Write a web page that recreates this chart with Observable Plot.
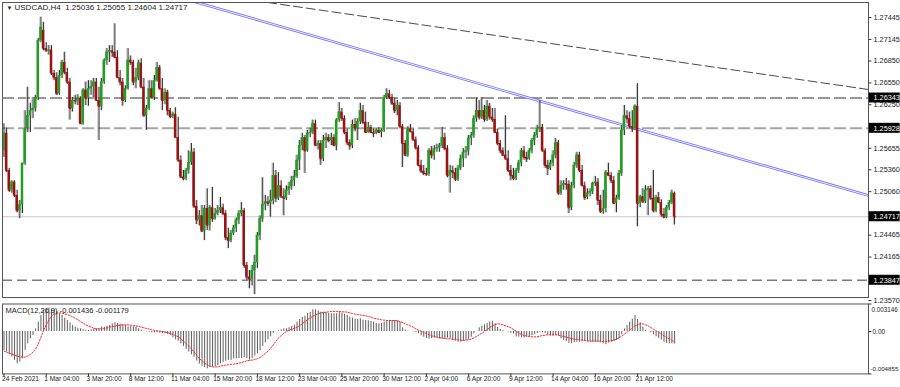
<!DOCTYPE html>
<html><head><meta charset="utf-8">
<script src="https://cdn.jsdelivr.net/npm/d3@7"></script>
<script src="https://cdn.jsdelivr.net/npm/@observablehq/plot@0.6"></script>
<style>
body{margin:0;background:#fff;}
#wrap{position:relative;width:900px;height:387px;overflow:hidden;background:#fff;}
#main,#macd{position:absolute;left:0;}
#main{top:0px}
#macd{top:300px}
</style></head><body><div id="wrap"><div id="main"></div><div id="macd"></div></div>
<script>
const open=[1.2562,1.2586,1.2535,1.2508,1.2519,1.2501,1.2480,1.2488,1.2545,1.2592,
1.2610,1.2617,1.2620,1.2635,1.2713,1.2727,1.2702,1.2699,1.2700,1.2668,
1.2662,1.2640,1.2665,1.2683,1.2669,1.2656,1.2620,1.2631,1.2630,1.2634,
1.2599,1.2645,1.2634,1.2647,1.2650,1.2656,1.2631,1.2623,1.2656,1.2686,
1.2697,1.2699,1.2697,1.2690,1.2662,1.2656,1.2631,1.2647,1.2686,1.2683,
1.2656,1.2662,1.2682,1.2649,1.2610,1.2620,1.2647,1.2635,1.2658,1.2676,
1.2647,1.2631,1.2642,1.2617,1.2609,1.2612,1.2580,1.2549,1.2526,1.2524,
1.2535,1.2546,1.2560,1.2486,1.2467,1.2473,1.2452,1.2483,1.2460,1.2484,
1.2469,1.2476,1.2480,1.2484,1.2476,1.2443,1.2439,1.2449,1.2456,1.2467,
1.2476,1.2480,1.2405,1.2389,1.2386,1.2398,1.2409,1.2446,1.2469,1.2488,
1.2492,1.2490,1.2494,1.2528,1.2497,1.2514,1.2499,1.2497,1.2508,1.2513,
1.2521,1.2527,1.2549,1.2569,1.2580,1.2562,1.2586,1.2587,1.2599,1.2569,
1.2572,1.2551,1.2576,1.2580,1.2576,1.2580,1.2569,1.2604,1.2615,1.2606,
1.2587,1.2573,1.2569,1.2598,1.2592,1.2602,1.2617,1.2601,1.2587,1.2594,
1.2587,1.2586,1.2590,1.2587,1.2590,1.2635,1.2640,1.2635,1.2627,1.2617,
1.2624,1.2595,1.2572,1.2556,1.2592,1.2588,1.2577,1.2566,1.2542,1.2534,
1.2531,1.2530,1.2562,1.2556,1.2565,1.2566,1.2569,1.2580,1.2565,1.2528,
1.2535,1.2532,1.2523,1.2538,1.2551,1.2560,1.2562,1.2579,1.2583,1.2606,
1.2617,1.2608,1.2617,1.2605,1.2623,1.2608,1.2605,1.2587,1.2572,1.2562,
1.2556,1.2551,1.2535,1.2528,1.2524,1.2535,1.2545,1.2562,1.2553,1.2551,
1.2562,1.2576,1.2583,1.2592,1.2594,1.2562,1.2542,1.2538,1.2545,1.2556,
1.2573,1.2504,1.2514,1.2517,1.2516,1.2484,1.2514,1.2542,1.2556,1.2535,
1.2514,1.2498,1.2504,1.2506,1.2517,1.2519,1.2494,1.2479,1.2483,1.2532,
1.2528,1.2521,1.2490,1.2497,1.2531,1.2590,1.2610,1.2606,1.2595,1.2592,
1.2623,1.2490,1.2499,1.2492,1.2508,1.2510,1.2497,1.2480,1.2498,1.2491,
1.2475,1.2471,1.2484,1.2491,1.25036];
const high=[1.2599,1.2593,1.2538,1.2521,1.2521,1.2508,1.2494,1.2494,1.2617,1.2649,
1.2627,1.2635,1.2638,1.2716,1.2745,1.2738,1.2710,1.2706,1.2706,1.2672,
1.2669,1.2672,1.2686,1.2697,1.2675,1.2661,1.2635,1.2638,1.2639,1.2636,
1.2647,1.2656,1.2658,1.2658,1.2661,1.2661,1.2649,1.2661,1.2688,1.2702,
1.2706,1.2706,1.2736,1.2699,1.2672,1.2661,1.2651,1.2702,1.2692,1.2686,
1.2675,1.2686,1.2688,1.2661,1.2624,1.2658,1.2658,1.2665,1.2683,1.2679,
1.2661,1.2647,1.2645,1.2620,1.2615,1.2621,1.2608,1.2555,1.2535,1.2538,
1.2562,1.2572,1.2565,1.2494,1.2480,1.2487,1.2487,1.2510,1.2487,1.2512,
1.2483,1.2487,1.2498,1.2489,1.2480,1.2456,1.2453,1.2460,1.2470,1.2480,
1.2491,1.2483,1.2409,1.2398,1.2405,1.2419,1.2450,1.2473,1.2525,1.2501,
1.2499,1.2508,1.2545,1.2535,1.2532,1.2521,1.2510,1.2514,1.2519,1.2527,
1.2535,1.2556,1.2576,1.2586,1.2583,1.2590,1.2593,1.2604,1.2604,1.2576,
1.2576,1.2583,1.2586,1.2584,1.2586,1.2584,1.2606,1.2628,1.2620,1.2610,
1.2592,1.2577,1.2604,1.2606,1.2606,1.2627,1.2624,1.2615,1.2601,1.2597,
1.2592,1.2592,1.2594,1.2592,1.2638,1.2647,1.2645,1.2639,1.2634,1.2631,
1.2628,1.2598,1.2576,1.2595,1.2598,1.2592,1.2581,1.2569,1.2549,1.2542,
1.2538,1.2565,1.2568,1.2569,1.2571,1.2572,1.2594,1.2586,1.2569,1.2542,
1.2541,1.2538,1.2542,1.2556,1.2565,1.2568,1.2583,1.2587,1.2610,1.2634,
1.2631,1.2635,1.2624,1.2631,1.2627,1.2620,1.2620,1.2592,1.2576,1.2566,
1.2610,1.2562,1.2542,1.2538,1.2538,1.2549,1.2565,1.2568,1.2560,1.2565,
1.2579,1.2587,1.2597,1.2631,1.2598,1.2565,1.2549,1.2549,1.2562,1.2579,
1.2576,1.2521,1.2521,1.2524,1.2521,1.2519,1.2546,1.2560,1.2560,1.2542,
1.2519,1.2510,1.2510,1.2519,1.2527,1.2524,1.2501,1.2508,1.2535,1.2545,
1.2532,1.2527,1.2501,1.2535,1.2597,1.2624,1.2617,1.2615,1.2617,1.2625,
1.2654,1.2501,1.2510,1.2514,1.2513,1.2514,1.2535,1.2501,1.2505,1.2495,
1.2483,1.2487,1.2494,1.2508,1.25055];
const low=[1.2553,1.2532,1.2505,1.2504,1.2498,1.2477,1.2469,1.2476,1.2542,1.2587,
1.2587,1.2606,1.2615,1.2631,1.2710,1.2699,1.2697,1.2693,1.2665,1.2658,
1.2638,1.2638,1.2661,1.2666,1.2653,1.2604,1.2615,1.2625,1.2624,1.2598,
1.2597,1.2624,1.2623,1.2638,1.2635,1.2630,1.2576,1.2617,1.2653,1.2679,
1.2683,1.2690,1.2688,1.2661,1.2651,1.2623,1.2628,1.2645,1.2679,1.2651,
1.2647,1.2658,1.2647,1.2608,1.2590,1.2617,1.2634,1.2631,1.2656,1.2645,
1.2617,1.2625,1.2610,1.2606,1.2606,1.2579,1.2546,1.2524,1.2521,1.2521,
1.2530,1.2542,1.2483,1.2461,1.2459,1.2450,1.2439,1.2453,1.2452,1.2464,
1.2467,1.2473,1.2476,1.2473,1.2439,1.2428,1.2436,1.2446,1.2450,1.2461,
1.2472,1.2401,1.2384,1.2373,1.2377,1.2365,1.2401,1.2439,1.2464,1.2480,
1.2486,1.2471,1.2488,1.2491,1.2494,1.2497,1.2473,1.2494,1.2501,1.2508,
1.2513,1.2524,1.2535,1.2562,1.2531,1.2560,1.2580,1.2584,1.2568,1.2563,
1.2542,1.2547,1.2565,1.2573,1.2569,1.2568,1.2562,1.2601,1.2602,1.2584,
1.2569,1.2563,1.2565,1.2588,1.2576,1.2598,1.2598,1.2586,1.2586,1.2586,
1.2580,1.2584,1.2586,1.2580,1.2587,1.2632,1.2632,1.2624,1.2613,1.2610,
1.2592,1.2539,1.2554,1.2553,1.2587,1.2575,1.2563,1.2540,1.2531,1.2528,
1.2527,1.2527,1.2551,1.2549,1.2560,1.2560,1.2565,1.2562,1.2525,1.2504,
1.2524,1.2520,1.2520,1.2535,1.2539,1.2551,1.2555,1.2569,1.2579,1.2601,
1.2604,1.2605,1.2601,1.2602,1.2604,1.2601,1.2586,1.2569,1.2558,1.2554,
1.2549,1.2532,1.2521,1.2521,1.2521,1.2531,1.2540,1.2549,1.2546,1.2549,
1.2558,1.2569,1.2579,1.2587,1.2560,1.2538,1.2528,1.2535,1.2540,1.2551,
1.2501,1.2501,1.2508,1.2508,1.2476,1.2480,1.2510,1.2538,1.2532,1.2513,
1.2494,1.2495,1.2499,1.2502,1.2513,1.2487,1.2476,1.2475,1.2477,1.2527,
1.2517,1.2488,1.2477,1.2494,1.2527,1.2583,1.2599,1.2592,1.2587,1.2590,
1.2458,1.2484,1.2490,1.2490,1.2473,1.2494,1.2477,1.2477,1.2490,1.2471,
1.2469,1.2469,1.2480,1.2488,1.24604];
const close=[1.2586,1.2535,1.2508,1.2519,1.2501,1.2480,1.2488,1.2545,1.2592,1.2610,
1.2617,1.2620,1.2635,1.2713,1.2731,1.2702,1.2699,1.2700,1.2668,1.2662,
1.2640,1.2665,1.2683,1.2669,1.2656,1.2620,1.2631,1.2630,1.2634,1.2599,
1.2645,1.2634,1.2647,1.2650,1.2656,1.2631,1.2623,1.2656,1.2686,1.2697,
1.2699,1.2697,1.2690,1.2662,1.2656,1.2631,1.2647,1.2686,1.2683,1.2656,
1.2662,1.2682,1.2649,1.2610,1.2620,1.2647,1.2635,1.2658,1.2676,1.2647,
1.2631,1.2642,1.2617,1.2609,1.2612,1.2580,1.2549,1.2526,1.2524,1.2535,
1.2546,1.2560,1.2486,1.2467,1.2473,1.2452,1.2483,1.2460,1.2484,1.2469,
1.2476,1.2480,1.2484,1.2476,1.2443,1.2439,1.2449,1.2456,1.2467,1.2476,
1.2480,1.2405,1.2389,1.2386,1.2398,1.2409,1.2446,1.2469,1.2488,1.2492,
1.2490,1.2494,1.2528,1.2497,1.2514,1.2499,1.2497,1.2508,1.2513,1.2521,
1.2527,1.2549,1.2569,1.2580,1.2562,1.2586,1.2587,1.2599,1.2569,1.2572,
1.2551,1.2576,1.2580,1.2576,1.2580,1.2569,1.2604,1.2615,1.2606,1.2587,
1.2573,1.2569,1.2598,1.2592,1.2602,1.2617,1.2601,1.2587,1.2594,1.2587,
1.2586,1.2590,1.2587,1.2590,1.2635,1.2640,1.2635,1.2627,1.2617,1.2624,
1.2595,1.2572,1.2556,1.2592,1.2588,1.2577,1.2566,1.2542,1.2534,1.2531,
1.2530,1.2562,1.2556,1.2565,1.2566,1.2569,1.2580,1.2565,1.2528,1.2535,
1.2532,1.2523,1.2538,1.2551,1.2560,1.2562,1.2579,1.2583,1.2606,1.2617,
1.2608,1.2617,1.2605,1.2623,1.2608,1.2605,1.2587,1.2572,1.2562,1.2556,
1.2551,1.2535,1.2528,1.2524,1.2535,1.2545,1.2562,1.2553,1.2551,1.2562,
1.2576,1.2583,1.2592,1.2594,1.2562,1.2542,1.2538,1.2545,1.2556,1.2573,
1.2504,1.2514,1.2517,1.2516,1.2484,1.2514,1.2542,1.2556,1.2535,1.2514,
1.2498,1.2504,1.2506,1.2517,1.2519,1.2494,1.2479,1.2483,1.2532,1.2528,
1.2521,1.2490,1.2497,1.2531,1.2590,1.2610,1.2606,1.2595,1.2592,1.2623,
1.2490,1.2499,1.2492,1.2508,1.2510,1.2497,1.2480,1.2498,1.2491,1.2475,
1.2471,1.2484,1.2491,1.2504,1.24717];

const macdMain=[-0.00217,-0.00236,-0.00267,-0.00293,-0.00331,-0.00370,-0.00350,-0.00312,-0.00217,-0.00141,
-0.00084,-0.00046,0.00030,0.00107,0.00183,0.00240,0.00259,0.00267,0.00259,0.00248,
0.00229,0.00202,0.00183,0.00152,0.00126,0.00099,0.00069,0.00050,0.00038,0.00030,
0.00019,0.00011,0.00011,0.00019,0.00030,0.00030,0.00030,0.00050,0.00050,0.00061,
0.00069,0.00088,0.00099,0.00091,0.00084,0.00076,0.00069,0.00053,0.00057,0.00053,
0.00050,0.00030,0.00015,0.00004,-0.00004,-0.00008,-0.00015,-0.00015,-0.00015,-0.00019,
-0.00023,-0.00027,-0.00034,-0.00046,-0.00072,-0.00095,-0.00110,-0.00141,-0.00171,-0.00206,
-0.00236,-0.00267,-0.00293,-0.00339,-0.00373,-0.00396,-0.00411,-0.00427,-0.00411,-0.00408,
-0.00404,-0.00389,-0.00370,-0.00354,-0.00339,-0.00331,-0.00331,-0.00316,-0.00312,-0.00312,
-0.00309,-0.00297,-0.00309,-0.00328,-0.00312,-0.00282,-0.00255,-0.00221,-0.00171,-0.00130,
-0.00095,-0.00061,-0.00023,-0.00004,0.00008,0.00019,0.00030,0.00030,0.00042,0.00057,
0.00072,0.00107,0.00137,0.00160,0.00175,0.00206,0.00221,0.00248,0.00248,0.00236,
0.00221,0.00221,0.00217,0.00206,0.00202,0.00202,0.00202,0.00217,0.00210,0.00198,
0.00183,0.00164,0.00152,0.00141,0.00137,0.00145,0.00130,0.00126,0.00122,0.00114,
0.00107,0.00091,0.00088,0.00091,0.00107,0.00122,0.00126,0.00126,0.00126,0.00122,
0.00107,0.00042,0.00015,0.00004,0.00000,-0.00004,-0.00011,-0.00027,-0.00050,-0.00065,
-0.00080,-0.00088,-0.00084,-0.00076,-0.00076,-0.00084,-0.00088,-0.00088,-0.00076,-0.00084,
-0.00103,-0.00110,-0.00122,-0.00122,-0.00114,-0.00103,-0.00095,-0.00065,-0.00027,0.00000,
0.00042,0.00061,0.00076,0.00091,0.00107,0.00118,0.00088,0.00046,0.00023,0.00011,
0.00000,-0.00008,-0.00019,-0.00030,-0.00061,-0.00065,-0.00072,-0.00076,-0.00065,-0.00065,
-0.00050,-0.00038,-0.00023,-0.00008,-0.00015,-0.00023,-0.00038,-0.00050,-0.00053,-0.00046,
-0.00053,-0.00084,-0.00103,-0.00114,-0.00137,-0.00141,-0.00130,-0.00122,-0.00122,-0.00118,
-0.00114,-0.00118,-0.00122,-0.00122,-0.00122,-0.00122,-0.00130,-0.00141,-0.00152,-0.00133,
-0.00122,-0.00114,-0.00103,-0.00088,-0.00038,0.00030,0.00069,0.00107,0.00141,0.00183,
0.00137,0.00099,0.00050,0.00015,-0.00004,-0.00015,-0.00038,-0.00061,-0.00080,-0.00099,
-0.00122,-0.00137,-0.00141,-0.00141,-0.001436];
const macdSignal=[-0.00225,-0.00236,-0.00248,-0.00259,-0.00270,-0.00282,-0.00290,-0.00293,-0.00293,-0.00282,
-0.00263,-0.00236,-0.00198,-0.00141,-0.00065,0.00011,0.00076,0.00133,0.00175,0.00202,
0.00210,0.00213,0.00210,0.00202,0.00194,0.00183,0.00168,0.00152,0.00133,0.00114,
0.00095,0.00076,0.00061,0.00050,0.00038,0.00030,0.00030,0.00030,0.00034,0.00042,
0.00050,0.00057,0.00061,0.00069,0.00072,0.00076,0.00076,0.00076,0.00072,0.00069,
0.00065,0.00057,0.00050,0.00042,0.00034,0.00027,0.00019,0.00011,0.00008,0.00004,
0.00000,-0.00008,-0.00015,-0.00023,-0.00034,-0.00046,-0.00061,-0.00084,-0.00110,-0.00141,
-0.00168,-0.00198,-0.00236,-0.00274,-0.00312,-0.00335,-0.00362,-0.00381,-0.00396,-0.00404,
-0.00408,-0.00404,-0.00396,-0.00389,-0.00385,-0.00381,-0.00377,-0.00373,-0.00370,-0.00362,
-0.00354,-0.00347,-0.00335,-0.00331,-0.00328,-0.00320,-0.00312,-0.00297,-0.00274,-0.00251,
-0.00225,-0.00190,-0.00152,-0.00114,-0.00072,-0.00046,-0.00019,0.00000,0.00015,0.00027,
0.00034,0.00050,0.00069,0.00088,0.00114,0.00137,0.00156,0.00175,0.00190,0.00202,
0.00213,0.00217,0.00221,0.00225,0.00229,0.00229,0.00229,0.00229,0.00225,0.00225,
0.00221,0.00213,0.00206,0.00198,0.00194,0.00190,0.00183,0.00179,0.00171,0.00164,
0.00152,0.00145,0.00141,0.00133,0.00130,0.00126,0.00126,0.00126,0.00126,0.00122,
0.00114,0.00103,0.00088,0.00076,0.00061,0.00050,0.00030,0.00015,0.00004,-0.00011,
-0.00023,-0.00038,-0.00050,-0.00057,-0.00065,-0.00072,-0.00076,-0.00080,-0.00084,-0.00084,
-0.00088,-0.00091,-0.00095,-0.00099,-0.00103,-0.00099,-0.00095,-0.00088,-0.00072,-0.00057,
-0.00038,-0.00019,0.00000,0.00023,0.00046,0.00065,0.00080,0.00088,0.00084,0.00076,
0.00065,0.00053,0.00042,0.00023,0.00004,-0.00015,-0.00034,-0.00046,-0.00053,-0.00057,
-0.00061,-0.00061,-0.00061,-0.00053,-0.00046,-0.00042,-0.00038,-0.00038,-0.00038,-0.00038,
-0.00042,-0.00050,-0.00057,-0.00065,-0.00072,-0.00080,-0.00088,-0.00091,-0.00095,-0.00099,
-0.00103,-0.00107,-0.00110,-0.00110,-0.00110,-0.00110,-0.00114,-0.00114,-0.00114,-0.00110,
-0.00107,-0.00099,-0.00088,-0.00072,-0.00053,-0.00030,-0.00008,0.00015,0.00042,0.00065,
0.00076,0.00088,0.00088,0.00076,0.00065,0.00046,0.00027,0.00008,-0.00011,-0.00030,
-0.00050,-0.00069,-0.00084,-0.00099,-0.001179];

const dateTickIndex=[0,16,32,48,64,80,96,112,128,144,160,176,192,208,224,240];
const dateTickLabels=["24 Feb 2021","1 Mar 04:00","3 Mar 20:00","8 Mar 12:00","11 Mar 04:00","15 Mar 20:00","18 Mar 12:00","23 Mar 04:00","25 Mar 20:00","30 Mar 12:00","2 Apr 04:00","6 Apr 20:00","9 Apr 12:00","14 Apr 04:00","16 Apr 20:00","21 Apr 12:00"];
const priceTicks=[1.27445,1.27145,1.26850,1.26550,1.26250,1.25655,1.25360,1.25060,1.24760,1.24465,1.24165,1.23570];
const levelPrices=[1.26343,1.25928,1.24717,1.23847];
const blueTrendIdx=[70,330], blueTrendPrice=[1.27684,1.24980];
const darkTrendIdx=[95,330], darkTrendPrice=[1.27677,1.26446];
const macdAxisValues=[0.003146,0,-0.004855];
const macdAxisLabels=["0.003146","0.00","-0.004855"];
const titleText="USDCAD,H4  1.25036 1.25055 1.24604 1.24717";
const macdTitle="MACD(12,26,9) -0.001436 -0.001179";

const FONT="'Liberation Sans', Arial, sans-serif";
const XDOM=[-0.568,327.46];
const XEND=XDOM[1];
const bars=close.map((c,i)=>({i,o:open[i],h:high[i],l:low[i],c}));
const bull="#1f9f1f", bear="#9c1212";
const blue=blueTrendIdx.map((x,k)=>({x,y:blueTrendPrice[k]}));
const dark=darkTrendIdx.map((x,k)=>({x,y:darkTrendPrice[k]}));
const PX=0.00013693; // price per pixel (label box size)
const MPX=0.0001144; // macd per pixel
const HW=0.47; // half body width in bars

const main=Plot.plot({
  width:900,height:300,marginLeft:2,marginRight:32,marginTop:2,marginBottom:3,
  style:{fontFamily:FONT,background:"transparent",overflow:"visible"},
  x:{domain:XDOM,axis:null},
  y:{domain:[1.23611,1.27651],axis:null},
  marks:[
    Plot.ruleY([levelPrices[2]],{stroke:"#c8c8c8",strokeWidth:1}),
    Plot.ruleY([levelPrices[0]],{stroke:"#2e2e2e",strokeWidth:1,strokeDasharray:"12,4"}),
    Plot.ruleY([levelPrices[1]],{stroke:"#a6a6a6",strokeWidth:2,strokeDasharray:"12,4"}),
    Plot.ruleY([levelPrices[3]],{stroke:"#7c7c7c",strokeWidth:1.5,strokeDasharray:"10,5"}),
    Plot.line(dark,{x:"x",y:"y",stroke:"#4a4a4a",strokeWidth:1,strokeDasharray:"9,4",clip:true}),
    Plot.line(blue,{x:"x",y:"y",stroke:"#7272ff",strokeWidth:2.6,clip:true}),
    Plot.line(blue,{x:"x",y:"y",stroke:"#eef0ff",strokeWidth:1,clip:true}),
    Plot.ruleX(bars,{x:"i",y1:"l",y2:"h",stroke:"#c4c4c4",strokeWidth:1,dx:-1.2}),
    Plot.ruleX(bars,{x:"i",y1:"l",y2:"h",stroke:"#2a2a2a",strokeWidth:1}),
    Plot.rect(bars,{x1:d=>d.i-HW,x2:d=>d.i+HW,y1:"o",y2:"c",fill:d=>d.c>=d.o?bull:bear}),
    Plot.link(bars,{x1:d=>d.i-HW,x2:d=>d.i+HW,y1:"c",y2:"c",stroke:d=>d.c>=d.o?bull:bear,strokeWidth:1}),
    Plot.frame({stroke:"#555",strokeWidth:1}),
    Plot.link(priceTicks,{x1:XEND,x2:XEND+1.1,y1:d=>d,y2:d=>d,stroke:"#333"}),
    Plot.text(priceTicks,{x:XEND,y:d=>d,text:d=>d.toFixed(5),dx:5,textAnchor:"start",fontSize:7.3,fill:"#222"}),
    Plot.rect(levelPrices,{x1:XEND+0.3,x2:XEND+12,y1:d=>d-5*PX,y2:d=>d+5*PX,fill:"#000"}),
    Plot.text(levelPrices,{x:XEND,y:d=>d,text:d=>d.toFixed(5),dx:5,textAnchor:"start",fontSize:7.3,fill:"#fff"}),
    Plot.text(["▼"],{frameAnchor:"top-left",dx:4,dy:3,fontSize:6,fill:"#222"}),
    Plot.text([titleText],{frameAnchor:"top-left",dx:12,dy:1.5,fontSize:8,fill:"#222",textAnchor:"start"})
  ]
});
document.getElementById("main").appendChild(main);

const macdBars=macdMain.map((v,i)=>({i,v,s:macdSignal[i]}));
const MBOT=-0.004855;
const macd=Plot.plot({
  width:900,height:87,marginLeft:2,marginRight:32,marginTop:3.5,marginBottom:13.6,
  style:{fontFamily:FONT,background:"transparent",overflow:"visible"},
  x:{domain:XDOM,axis:null},
  y:{domain:[MBOT,0.003146],axis:null},
  marks:[
    Plot.ruleX(macdBars,{x:"i",y1:0,y2:"v",stroke:"#5e5e5e",strokeWidth:1}),
    Plot.line(macdBars,{x:"i",y:"s",stroke:"#ff2a2a",strokeWidth:1,strokeDasharray:"1.5,1.5"}),
    Plot.frame({stroke:"#555",strokeWidth:1}),
    Plot.link(macdAxisValues,{x1:XEND,x2:XEND+1.1,y1:d=>d,y2:d=>d,stroke:"#333"}),
    Plot.text([macdAxisValues[0]],{x:XEND,y:d=>d,text:()=>macdAxisLabels[0],dx:3,dy:6,textAnchor:"start",fontSize:6.3,fill:"#222"}),
    Plot.text([macdAxisValues[1]],{x:XEND,y:d=>d,text:()=>macdAxisLabels[1],dx:4,dy:0,textAnchor:"start",fontSize:6.5,fill:"#222"}),
    Plot.text([macdAxisValues[2]],{x:XEND,y:d=>d,text:()=>macdAxisLabels[2],dx:2,dy:-5,textAnchor:"start",fontSize:6.2,fill:"#222"}),
    Plot.text([macdTitle],{frameAnchor:"top-left",dx:3,dy:4,fontSize:7.5,fill:"#222",textAnchor:"start"}),
    Plot.ruleX(dateTickIndex,{x:d=>d,y1:MBOT,y2:MBOT-3*MPX,stroke:"#333"}),
    Plot.text(dateTickIndex,{x:d=>d,frameAnchor:"bottom",text:(d,k)=>dateTickLabels[k],dy:7,dx:-2,textAnchor:"start",fontSize:6.6,fill:"#222"})
  ]
});
document.getElementById("macd").appendChild(macd);
</script></body></html>
